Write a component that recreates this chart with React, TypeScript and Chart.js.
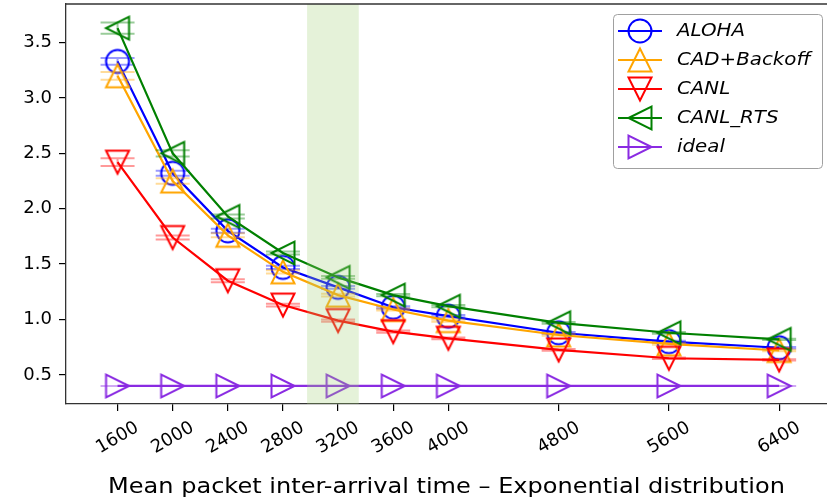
import React, { useEffect, useRef } from "react";
import { Chart, registerables } from "chart.js";

Chart.register(...registerables);

// ---------- data ----------
const X_VALUES = [1600, 2000, 2400, 2800, 3200, 3600, 4000, 4800, 5600, 6400];
const X_TICKS = [1600, 2000, 2400, 2800, 3200, 3600, 4000, 4800, 5600, 6400];
const Y_TICKS = [0.5, 1.0, 1.5, 2.0, 2.5, 3.0, 3.5];

const SERIES_NAMES = ["ALOHA", "CAD+Backoff", "CANL", "CANL_RTS", "ideal"];

const ALOHA = [3.33, 2.32, 1.8, 1.47, 1.29, 1.11, 1.03, 0.88, 0.8, 0.745];
const CAD_BACKOFF = [3.2, 2.25, 1.76, 1.43, 1.22, 1.09, 0.99, 0.86, 0.78, 0.72];
const CANL = [2.42, 1.74, 1.35, 1.13, 0.99, 0.89, 0.83, 0.725, 0.65, 0.635];
const CANL_RTS = [3.63, 2.5, 1.93, 1.6, 1.38, 1.22, 1.12, 0.97, 0.88, 0.82];
const IDEAL = [0.4, 0.4, 0.4, 0.4, 0.4, 0.4, 0.4, 0.4, 0.4, 0.4];

const ALOHA_ERR = [0.03, 0.022, 0.018, 0.014, 0.012, 0.01, 0.01, 0.008, 0.008, 0.006];
const CAD_BACKOFF_ERR = [0.035, 0.025, 0.018, 0.014, 0.012, 0.01, 0.01, 0.008, 0.008, 0.006];
const CANL_ERR = [0.035, 0.018, 0.014, 0.012, 0.01, 0.01, 0.008, 0.008, 0.006, 0.006];
const CANL_RTS_ERR = [0.05, 0.028, 0.018, 0.014, 0.012, 0.01, 0.01, 0.008, 0.008, 0.006];
const IDEAL_ERR = [0, 0, 0, 0, 0, 0, 0, 0, 0, 0];

const SHADE_RANGE = [2975, 3350];

const X_TITLE = "Mean packet inter-arrival time \u2013 Exponential distribution";

// ---------- style ----------
const SERIES = [ALOHA, CAD_BACKOFF, CANL, CANL_RTS, IDEAL];
const ERRORS = [ALOHA_ERR, CAD_BACKOFF_ERR, CANL_ERR, CANL_RTS_ERR, IDEAL_ERR];
const COLORS = ["#0000ff", "#ffa500", "#ff0000", "#008000", "#8a2be2"];
const SHAPES = ["circle", "up", "down", "left", "right"];
const FONT = '"DejaVu Sans", "Liberation Sans", sans-serif';
const CAP_HALF = 17;

function makeMarker(shape: string, color: string, size = 23, lw = 2) {
  const S = 30;
  const c = document.createElement("canvas");
  c.width = S;
  c.height = S;
  const ctx = c.getContext("2d")!;
  ctx.strokeStyle = color;
  ctx.lineWidth = lw;
  ctx.lineJoin = "miter";
  const h = size / 2;
  const cx = S / 2;
  const cy = S / 2;
  ctx.beginPath();
  if (shape === "circle") {
    ctx.arc(cx, cy, h, 0, Math.PI * 2);
  } else {
    let pts: number[][] = [];
    if (shape === "up") pts = [[0, -h], [-h, h], [h, h]];
    if (shape === "down") pts = [[0, h], [-h, -h], [h, -h]];
    if (shape === "left") pts = [[-h, 0], [h, -h], [h, h]];
    if (shape === "right") pts = [[h, 0], [-h, -h], [-h, h]];
    ctx.moveTo(cx + pts[0][0], cy + pts[0][1]);
    ctx.lineTo(cx + pts[1][0], cy + pts[1][1]);
    ctx.lineTo(cx + pts[2][0], cy + pts[2][1]);
    ctx.closePath();
  }
  ctx.stroke();
  return c;
}

export default function App() {
  const canvasRef = useRef<HTMLCanvasElement | null>(null);

  useEffect(() => {
    const canvas = canvasRef.current;
    if (!canvas) return;
    const markers = SHAPES.map((s, i) => makeMarker(s, COLORS[i]));

    const overlay = {
      id: "overlay",
      afterDatasetDraw(chart: any, args: any) {
        const i = args.index;
        const errs = ERRORS[i];
        const vals = SERIES[i];
        const ys = chart.scales.y;
        const ctx = chart.ctx;
        const a = chart.chartArea;
        ctx.save();
        ctx.beginPath();
        ctx.rect(a.left, a.top, a.right - a.left, a.bottom - a.top);
        ctx.clip();
        ctx.globalAlpha = 0.4;
        ctx.strokeStyle = COLORS[i];
        ctx.lineWidth = 2;
        args.meta.data.forEach((pt: any, j: number) => {
          const x = pt.x;
          const yt = ys.getPixelForValue(vals[j] + errs[j]);
          const yb = ys.getPixelForValue(vals[j] - errs[j]);
          ctx.beginPath();
          ctx.moveTo(x, yt);
          ctx.lineTo(x, yb);
          ctx.moveTo(x - CAP_HALF, yt);
          ctx.lineTo(x + CAP_HALF, yt);
          ctx.moveTo(x - CAP_HALF, yb);
          ctx.lineTo(x + CAP_HALF, yb);
          ctx.stroke();
        });
        ctx.restore();
      },
      afterDatasetsDraw(chart: any) {
        const ctx = chart.ctx;
        const a = chart.chartArea;
        const xs = chart.scales.x;
        const x0 = xs.getPixelForValue(SHADE_RANGE[0]);
        const x1 = xs.getPixelForValue(SHADE_RANGE[1]);
        ctx.save();
        ctx.fillStyle = "rgba(160, 210, 120, 0.28)";
        ctx.fillRect(x0, a.top, x1 - x0, a.bottom - a.top);
        ctx.restore();
      },
      afterDraw(chart: any) {
        const ctx = chart.ctx;
        const a = chart.chartArea;
        const xs = chart.scales.x;
        ctx.save();
        // top spine
        ctx.strokeStyle = "#333";
        ctx.lineWidth = 1.3;
        ctx.beginPath();
        ctx.moveTo(a.left, a.top);
        ctx.lineTo(a.right, a.top);
        ctx.stroke();

        // x tick labels (rotated 30deg, centred on tick)
        ctx.fillStyle = "#000";
        ctx.font = `18px ${FONT}`;
        ctx.textAlign = "center";
        ctx.textBaseline = "middle";
        X_TICKS.forEach((v) => {
          const px = xs.getPixelForValue(v);
          ctx.save();
          ctx.translate(px, 438);
          ctx.rotate((-30 * Math.PI) / 180);
          ctx.fillText(String(v), 0, 0);
          ctx.restore();
        });

        // x title
        ctx.font = `21px ${FONT}`;
        ctx.textBaseline = "alphabetic";
        const tw = ctx.measureText(X_TITLE).width;
        const sx = 677 / tw;
        ctx.save();
        ctx.translate((a.left + a.right) / 2, 493);
        ctx.scale(sx, 1);
        ctx.fillText(X_TITLE, 0, 0);
        ctx.restore();

        // legend
        const bx = 613, by = 14, bw = 209, bh = 154;
        ctx.fillStyle = "rgba(255,255,255,0.85)";
        ctx.strokeStyle = "#a0a0a0";
        ctx.lineWidth = 1;
        ctx.beginPath();
        (ctx as any).roundRect(bx + 0.5, by + 0.5, bw, bh, 4);
        ctx.fill();
        ctx.stroke();
        SERIES_NAMES.forEach((name, i) => {
          const ry = 31 + i * 29;
          ctx.strokeStyle = COLORS[i];
          ctx.lineWidth = 2.2;
          ctx.beginPath();
          ctx.moveTo(618, ry);
          ctx.lineTo(662, ry);
          ctx.stroke();
          const m = markers[i];
          ctx.drawImage(m, 640 - m.width / 2, ry - m.height / 2);
          ctx.fillStyle = "#000";
          ctx.font = `italic 18px ${FONT}`;
          ctx.textAlign = "left";
          ctx.textBaseline = "middle";
          ctx.save();
          ctx.translate(677, ry);
          ctx.scale(1.1, 1);
          ctx.fillText(name, 0, 0);
          ctx.restore();
        });
        ctx.restore();
      },
    };

    const chart = new Chart(canvas, {
      type: "line",
      data: {
        datasets: SERIES.map((vals, i) => ({
          label: SERIES_NAMES[i],
          data: X_VALUES.map((x, j) => ({ x, y: vals[j] })),
          borderColor: COLORS[i],
          backgroundColor: COLORS[i],
          borderWidth: 2.2,
          pointStyle: markers[i] as any,
          pointRadius: 12,
          pointHoverRadius: 12,
          tension: 0,
          fill: false,
          order: SERIES.length - 1 - i,
        })),
      },
      options: {
        animation: false,
        responsive: false,
        devicePixelRatio: 1,
        layout: { autoPadding: false, padding: { top: 4, right: 0, left: 0, bottom: 0 } },
        plugins: {
          legend: { display: false },
          tooltip: { enabled: false },
          title: { display: false },
        },
        scales: {
          x: {
            type: "linear",
            min: 1226,
            max: 6747,
            afterBuildTicks: (s: any) => {
              s.ticks = X_TICKS.map((v) => ({ value: v }));
            },
            afterFit: (s: any) => {
              s.height = 98;
              s.paddingLeft = 0;
              s.paddingRight = 0;
            },
            ticks: { display: false },
            grid: {
              drawOnChartArea: false,
              drawTicks: true,
              tickLength: 7,
              color: "#000",
              lineWidth: 1.2,
            },
            border: { display: true, color: "#333", width: 1.3 },
          },
          y: {
            type: "linear",
            min: 0.237,
            max: 3.848,
            afterBuildTicks: (s: any) => {
              s.ticks = Y_TICKS.map((v) => ({ value: v }));
            },
            afterFit: (s: any) => {
              s.width = 66;
              s.paddingTop = 0;
              s.paddingBottom = 0;
            },
            ticks: {
              color: "#000",
              font: { family: FONT, size: 18 },
              padding: 7,
              callback: (v: any) => Number(v).toFixed(1),
            },
            grid: {
              drawOnChartArea: false,
              drawTicks: true,
              tickLength: 7,
              color: "#000",
              lineWidth: 1.2,
            },
            border: { display: true, color: "#333", width: 1.3 },
          },
        },
      },
      plugins: [overlay],
    });

    return () => chart.destroy();
  }, []);

  return (
    <div style={{ position: "absolute", left: 0, top: 0, width: 827, height: 502, background: "#fff" }}>
      <canvas ref={canvasRef} width={827} height={502} style={{ width: 827, height: 502, display: "block" }} />
    </div>
  );
}
